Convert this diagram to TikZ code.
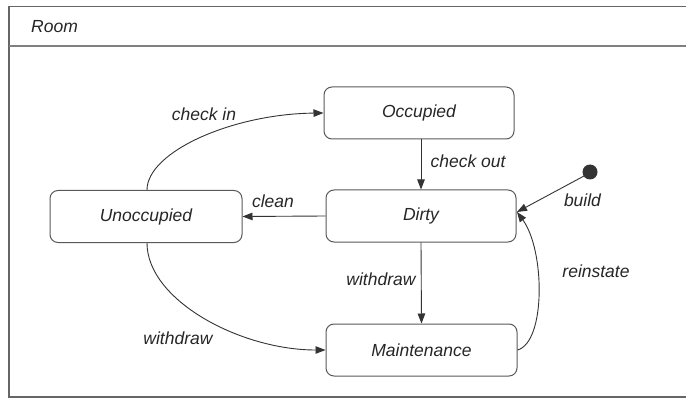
\documentclass[tikz,border=0pt]{standalone}
\usepackage{fontspec}
\setmainfont{Liberation Sans}
\usetikzlibrary{arrows.meta}
\begin{document}
\begin{tikzpicture}[x=1pt,y=-1pt,
  lbl/.style={font=\fontsize{17.5}{20}\selectfont\itshape, text=black!85, inner sep=0pt},
  state/.style={draw=black!65, line width=1pt, rounded corners=8pt, minimum width=190pt, minimum height=52pt, inner sep=0pt, font=\fontsize{17.5}{20}\selectfont\itshape, text=black!85},
  trans/.style={draw=black!80, line width=0.9pt, -{Triangle[length=10pt,width=7.5pt]}},
  frameline/.style={draw=black!60, line width=1.3pt}
]
\useasboundingbox (0,0) rectangle (686,401);
% frame
\draw[frameline] (696,6.5) -- (9,6.5) -- (9,397) -- (696,397);
\draw[frameline, draw=black!50] (9,46) -- (696,46);
\node[lbl, anchor=west] (room) at (31,27) {Room};
% states
\node[state] (occ) at (419,113) {Occupied};
\node[state] (dirty) at (421,216) {Dirty};
\node[state, minimum width=192pt] (unocc) at (146,216.5) {Unoccupied};
\node[state, minimum width=191pt] (maint) at (421.5,350) {Maintenance};
% initial
\fill[black!80] (590,172) circle (7.5pt);
\coordinate (init) at (590,172);
\coordinate (dirtyR) at (517,212);
% transitions
\draw[trans] (unocc.north) ++(1,0) coordinate (ua) .. controls (147,152) and (232,114) .. (occ.west);
\draw[trans] (occ.south -| 421,0) -- (dirty.north);
\draw[trans] (dirty.west) -- (unocc.east);
\draw[trans] (dirty.south) -- (maint.north);
\draw[trans] (unocc.south) ++(1,0) coordinate (ub) .. controls (147,300) and (240,350) .. (maint.west);
\draw[trans] (maint.east) .. controls (546,342) and (545,250) .. (dirtyR);
\draw[trans] (init) ++(-6,4) coordinate (ib) -- (dirtyR);
% labels
\node[lbl] (l1) at (204,114.5) {check in};
\node[lbl] (l2) at (468,161) {check out};
\node[lbl] (l3) at (273,201) {clean};
\node[lbl] (l4) at (381,279) {withdraw};
\node[lbl] (l5) at (178,338.5) {withdraw};
\node[lbl] (l6) at (582.5,200) {build};
\node[lbl] (l7) at (596,271) {reinstate};
\end{tikzpicture}
\end{document}
